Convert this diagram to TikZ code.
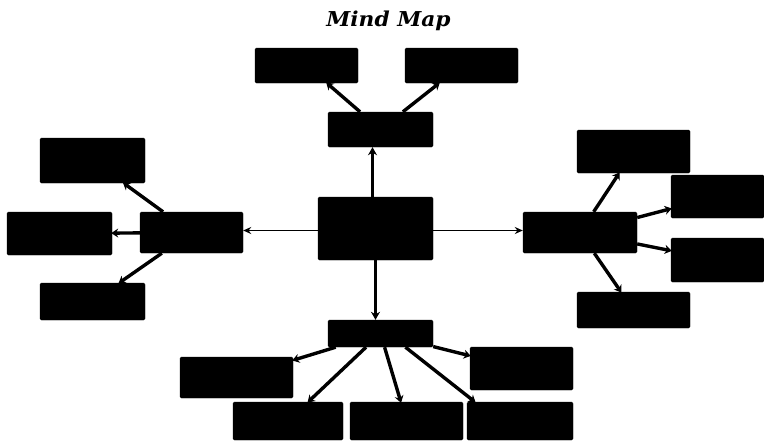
\documentclass[tikz,border=0pt]{standalone}
\usepackage{fontspec}
\usepackage{graphicx}
\newfontfamily\titlefont{DejaVu Serif}
\usetikzlibrary{arrows.meta}
\tikzset{
  boxnode/.style={fill=black, draw=black, rounded corners=1.5pt, inner sep=0pt},
  mainline/.style={draw=black, line width=1.6pt, -{Stealth[length=8pt,width=7pt]}},
  thickline/.style={draw=black, line width=3.4pt, -{Stealth[length=8pt,width=9pt]}},
  subline/.style={draw=black, line width=3.4pt, -{Stealth[length=7pt,width=9pt]}, shorten >=-1pt}
}
\newcommand{\bx}[5]{\node[boxnode, minimum width=#4pt, minimum height=#5pt] (#1) at (#2,#3) {};}
\begin{document}
\begin{tikzpicture}[x=1pt,y=-1pt]
\useasboundingbox[fill=white] (0,0) rectangle (764,440);
\node (title) at (388.5,21) {\scalebox{1.06}[1]{\titlefont\fontsize{20.5}{22}\selectfont\bfseries\itshape Mind Map}};
% central
\bx{c}{375.5}{228.5}{115}{63}
% top branch
\bx{t}{380.5}{129.5}{105}{35}
\bx{tl}{306.5}{65.5}{103}{35}
\bx{tr}{461.5}{65.5}{113}{35}
% left branch
\bx{l}{191.5}{232.5}{103}{41}
\bx{ll}{59.5}{233.5}{105}{43}
\bx{lt}{92.5}{160.5}{105}{45}
\bx{lb}{92.5}{301.5}{105}{37}
% right branch
\bx{r}{580}{232.5}{114}{41}
\bx{rt}{633.5}{151.5}{113}{43}
\bx{rur}{717.5}{196.5}{93}{43}
\bx{rlr}{717.5}{260}{93}{44}
\bx{rb}{633.5}{310}{113}{36}
% bottom branch
\bx{b}{380.5}{333.5}{105}{27}
\bx{bl}{236.5}{377.5}{113}{41}
\bx{ba}{288}{421}{110}{38}
\bx{bb}{406.5}{421}{113}{38}
\bx{bc}{520}{421}{106}{38}
\bx{br}{521.5}{368.5}{103}{43}
% main connectors
\draw[thickline] ([xshift=-3pt]c.north) -- ([xshift=-3pt]c.north |- t.south);
\draw[thickline] (c.south) -- (c.south |- b.north);
\draw[mainline] ([yshift=-2pt]c.west) -- ([yshift=-2pt]c.west -| l.east);
\draw[mainline] ([yshift=-2pt]c.east) -- ([yshift=-2pt]c.east -| r.west);
% sub connectors
\draw[subline] (t) -- (tl);
\draw[subline] (t) -- (tr);
\draw[subline] (l) -- (lt);
\draw[subline] (l) -- (ll);
\draw[subline] (l) -- (lb);
\draw[subline] (r) -- (rt);
\draw[subline] (r) -- (rur);
\draw[subline] (r) -- (rlr);
\draw[subline] (r) -- (rb);
\draw[subline] (b) -- (bl);
\draw[subline] (b) -- (ba);
\draw[subline] (b) -- (bb);
\draw[subline] ([xshift=25pt]b.south) -- ([xshift=8pt]bc.north west);
\draw[subline] (b) -- (br);
\end{tikzpicture}
\end{document}
